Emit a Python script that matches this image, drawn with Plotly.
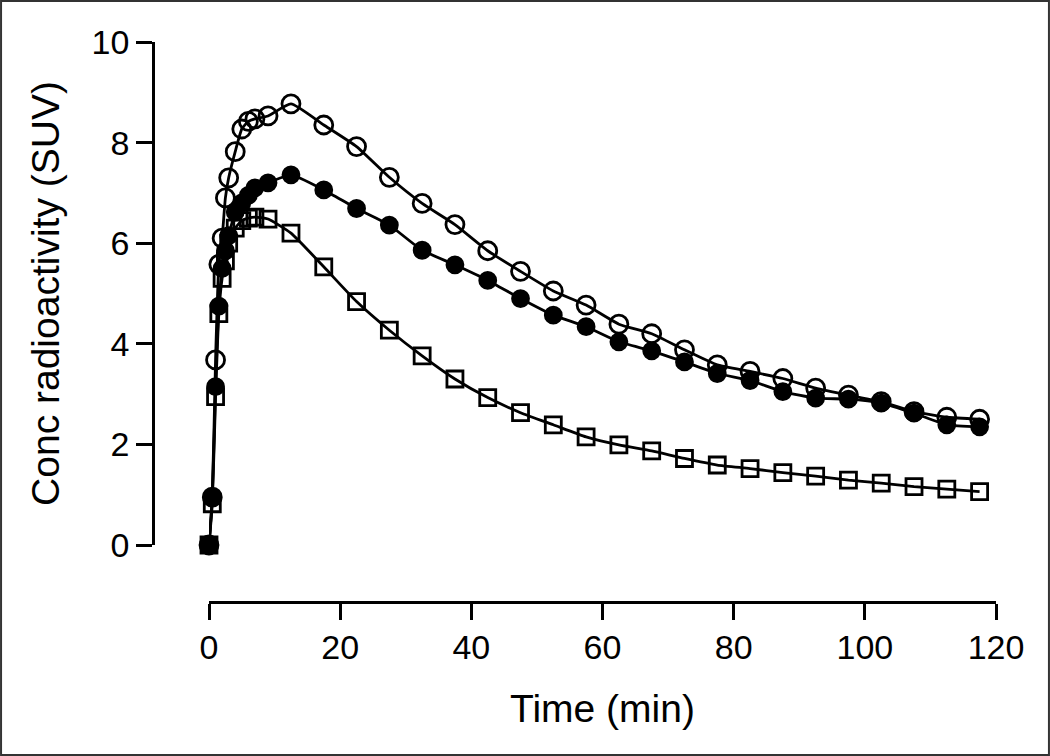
import plotly.graph_objects as go

# Time points (min)
times = [0, 0.5, 1, 1.5, 2, 2.5, 3, 4, 5, 6, 7, 9, 12.5,
         17.5, 22.5, 27.5, 32.5, 37.5, 42.5, 47.5, 52.5, 57.5, 62.5, 67.5,
         72.5, 77.5, 82.5, 87.5, 92.5, 97.5, 102.5, 107.5, 112.5, 117.5]

# Open circles
suv_open = [0, 0.95, 3.68, 5.58, 6.1, 6.9, 7.3, 7.82, 8.27, 8.42, 8.47, 8.53, 8.77,
            8.35, 7.92, 7.31, 6.79, 6.37, 5.85, 5.44, 5.05, 4.77, 4.39, 4.20,
            3.88, 3.58, 3.45, 3.31, 3.12, 2.98, 2.85, 2.65, 2.54, 2.50]

# Filled circles
suv_filled = [0, 0.95, 3.15, 4.75, 5.5, 5.85, 6.15, 6.62, 6.8, 6.95, 7.1, 7.2, 7.36,
              7.06, 6.69, 6.36, 5.86, 5.57, 5.26, 4.90, 4.57, 4.34, 4.04, 3.86,
              3.64, 3.41, 3.27, 3.05, 2.92, 2.90, 2.82, 2.62, 2.39, 2.35]

# Open squares
suv_square = [0, 0.82, 2.95, 4.6, 5.3, 5.65, 6.0, 6.3, 6.45, 6.5, 6.52, 6.48, 6.2,
              5.53, 4.84, 4.27, 3.76, 3.30, 2.93, 2.63, 2.39, 2.15, 1.99, 1.87,
              1.72, 1.59, 1.52, 1.44, 1.37, 1.29, 1.23, 1.16, 1.11, 1.06]

x_ticks = [0, 20, 40, 60, 80, 100, 120]
y_ticks = [0, 2, 4, 6, 8, 10]

W, H = 1050, 756
FONT = "Liberation Sans, Arial, sans-serif"

fig = go.Figure()

series = [
    (suv_filled, "circle", "black", 16),
    (suv_square, "square-open", "black", 16),
    (suv_open, "circle-open", "black", 18),
]
for vals, sym, col, size in series:
    fig.add_trace(go.Scatter(
        x=times, y=vals, mode="lines+markers",
        line=dict(color="black", width=2.8, shape="spline", smoothing=0.5),
        marker=dict(symbol=sym, size=size, color=col,
                    line=dict(color="black", width=2.8)),
        cliponaxis=False, showlegend=False, hoverinfo="skip",
    ))

x0, x1 = 209, 996
y0, y1 = 545, 42
fig.update_layout(
    template="none",
    width=W, height=H,
    margin=dict(l=0, r=0, t=0, b=0, autoexpand=False),
    paper_bgcolor="white", plot_bgcolor="white",
    font=dict(family=FONT, color="black", size=34),
    xaxis=dict(
        domain=[x0 / W, x1 / W], range=[0, 120], automargin=False,
        anchor="free", position=(H - 602) / H,
        tickvals=x_ticks, ticks="outside", ticklen=16, tickwidth=2.5,
        tickcolor="black", showline=True, linecolor="black", linewidth=2.5,
        showgrid=False, zeroline=False,
        tickfont=dict(size=34), ticklabelstandoff=-2,
        title=dict(text="Time (min)", font=dict(size=39), standoff=30),
    ),
    yaxis=dict(
        domain=[(H - y0) / H, (H - y1) / H], range=[0, 10], automargin=False,
        anchor="free", position=153 / W,
        tickvals=y_ticks, ticks="outside", ticklen=16, tickwidth=2.5,
        tickcolor="black", showline=True, linecolor="black", linewidth=2.5,
        showgrid=False, zeroline=False,
        tickfont=dict(size=34), ticklabelstandoff=0,
        title=dict(text="Conc radioactivity (SUV)", font=dict(size=39), standoff=18),
    ),
    shapes=[dict(type="rect", xref="paper", yref="paper",
                 x0=0.001, x1=0.999, y0=0.0013, y1=0.9987,
                 line=dict(color="#333333", width=2))],
)

fig.write_html("out.html", config={"displayModeBar": False},
               post_script="document.body.style.margin='0';document.body.style.overflow='hidden';")
